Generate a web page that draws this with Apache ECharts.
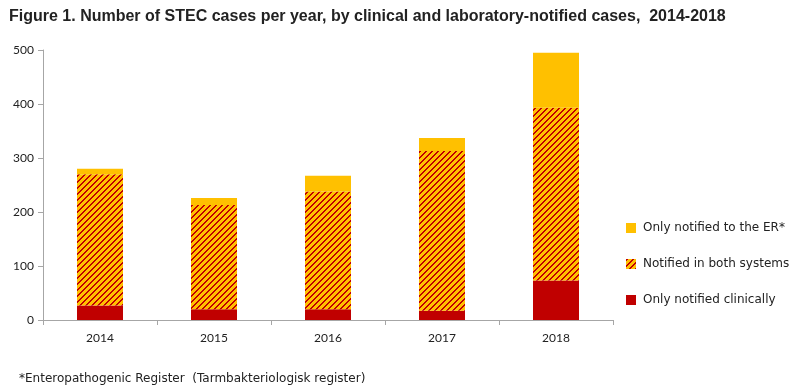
<!DOCTYPE html>
<html>
<head>
<meta charset="utf-8">
<script src="https://cdn.jsdelivr.net/npm/echarts@6/dist/echarts.min.js"></script>
<style>html,body{margin:0;padding:0;background:#fff}#c{width:800px;height:392px}</style>
</head>
<body>
<div id="c"></div>
<script>
const years = ['2014', '2015', '2016', '2017', '2018'];
const onlyClinical = [27, 20, 20, 17, 73];
const bothSystems = [243, 193, 218, 296, 320];
const onlyER = [10, 13, 29, 24, 102];
const yTicks = [0, 100, 200, 300, 400, 500];

const RED = '#C00000', YEL = '#FFC000';
function hatch() {
  const n = 6;
  const cv = document.createElement('canvas');
  cv.width = n; cv.height = n;
  const ctx = cv.getContext('2d');
  const img = ctx.createImageData(n, n);
  for (let y = 0; y < n; y++) for (let x = 0; x < n; x++) {
    const r = ((x + y) % n) < 2;
    const i = (y * n + x) * 4;
    img.data[i] = r ? 0xC0 : 0xFF;
    img.data[i + 1] = r ? 0x00 : 0xC0;
    img.data[i + 2] = 0;
    img.data[i + 3] = 255;
  }
  ctx.putImageData(img, 0, 0);
  return cv;
}
const pattern = { image: hatch(), repeat: 'repeat' };

const chart = echarts.init(document.getElementById('c'), null, { renderer: 'canvas' });
const font = 'Lato, "DejaVu Sans", sans-serif';
const wide = '"DejaVu Sans", sans-serif';
chart.setOption({
  animation: false,
  title: [{
    text: 'Figure 1. Number of STEC cases per year, by clinical and laboratory-notified cases,  2014-2018',
    left: 4, top: 4,
    textStyle: { fontFamily: '"Liberation Sans", sans-serif', fontWeight: 'bold', fontSize: 16, color: '#222' }
  }, {
    text: '*Enteropathogenic Register  (Tarmbakteriologisk register)',
    left: 14, top: 368,
    textStyle: { fontFamily: wide, fontWeight: 'normal', fontSize: 12, color: '#222' }
  }],
  grid: { left: 43, right: 187, top: 50, bottom: 72 },
  legend: {
    orient: 'vertical', left: 621, top: 217, itemGap: 24,
    itemWidth: 10, itemHeight: 10, icon: 'rect',
    data: ['Only notified to the ER*', 'Notified in both systems', 'Only notified clinically'],
    textStyle: { fontFamily: wide, fontSize: 12, color: '#222', padding: [0, 0, 0, 2] }
  },
  xAxis: {
    type: 'category', data: years,
    axisLine: { lineStyle: { color: '#A6A6A6' } },
    axisTick: { show: true, length: 5, lineStyle: { color: '#A6A6A6' } },
    axisLabel: { fontFamily: font, fontSize: 12, color: '#222', margin: 12 }
  },
  yAxis: {
    type: 'value', min: 0, max: 500, interval: 100,
    axisLine: { show: true, lineStyle: { color: '#A6A6A6' } },
    axisTick: { show: true, length: 5, lineStyle: { color: '#A6A6A6' } },
    splitLine: { show: false },
    axisLabel: { fontFamily: font, fontSize: 12, color: '#222', margin: 9,
      formatter: v => yTicks.includes(v) ? String(v) : '' }
  },
  series: [
    { name: 'Only notified clinically', type: 'bar', stack: 't', barWidth: 46, data: onlyClinical, itemStyle: { color: RED } },
    { name: 'Notified in both systems', type: 'bar', stack: 't', barWidth: 46, data: bothSystems, itemStyle: { color: pattern } },
    { name: 'Only notified to the ER*', type: 'bar', stack: 't', barWidth: 46, data: onlyER, itemStyle: { color: YEL } }
  ]
});
</script>
</body>
</html>
